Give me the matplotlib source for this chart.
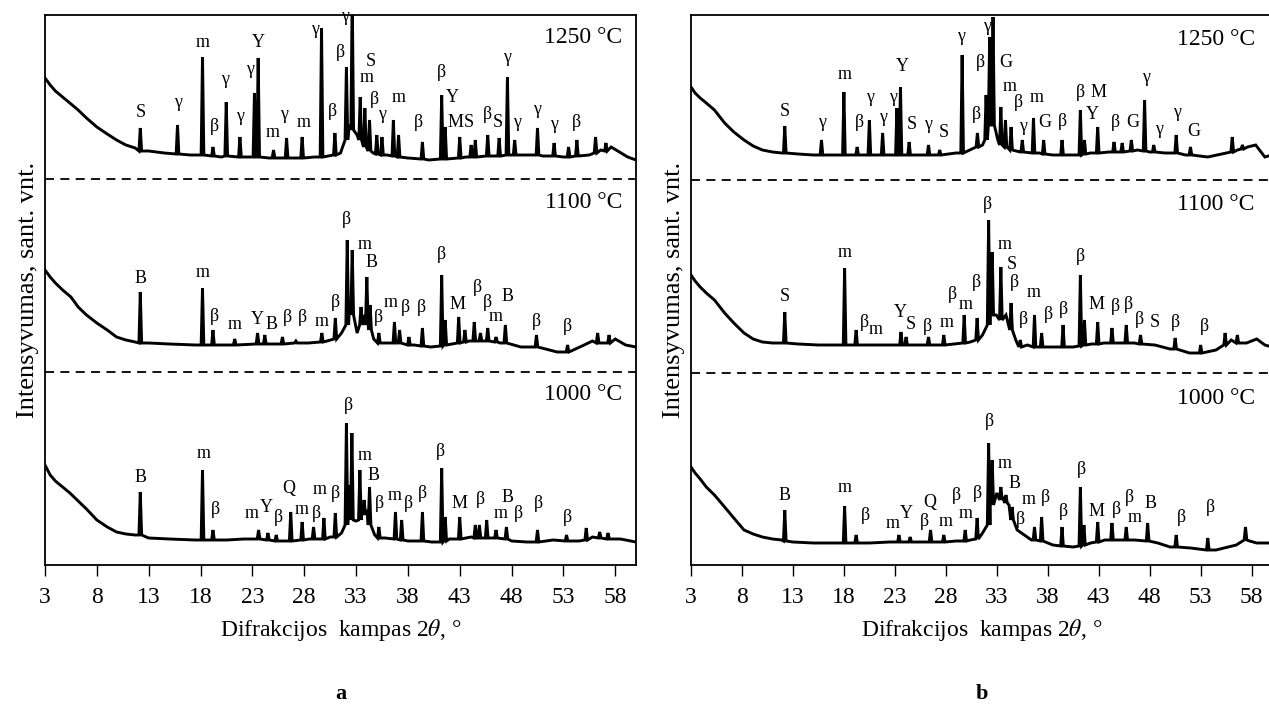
import matplotlib
matplotlib.use('Agg')
import matplotlib.pyplot as plt

plt.rcParams['font.family'] = ['Liberation Serif', 'DejaVu Serif']
plt.rcParams['mathtext.fontset'] = 'stix'

# intensity unit: arbitrary (0 = bottom frame, 550 = top frame)
xticks = [3, 8, 13, 18, 23, 28, 33, 38, 43, 48, 53, 58]

# ---------- panel a ----------
# 1250 C
a1250_bg_t = [3.0, 3.5, 4.0, 4.7, 5.5, 6.2, 7.0, 8.0, 9.0, 9.9, 10.8, 11.7, 13.0, 14.5, 17.0, 20.0,
              24.6, 27.0, 29.0, 31.5, 32.35, 33.1, 34.65, 36.0, 38.0, 40.0, 43.6, 47.0, 49.0, 51.0,
              53.0, 55.5, 56.6, 57.6, 58.4, 59.2, 60.0]
a1250_bg_v = [487, 480, 474, 468, 461, 455, 447, 438, 431, 425, 420, 417, 414, 412, 410, 408,
              407, 407, 408, 412, 440, 430, 412, 410, 407, 405, 408, 409, 410, 409,
              408, 410, 415, 418, 413, 408, 405]
a1250_pk_t = [12.19, 15.78, 18.19, 19.2, 20.48, 21.8, 23.2, 23.56, 25.04, 26.3, 27.8, 29.67, 30.96,
              32.07, 32.63, 33.4, 33.85, 34.3, 35.0, 35.5, 36.6, 37.1, 39.4, 41.26, 41.6, 43.0,
              44.1, 44.5, 45.7, 46.8, 47.6, 48.3, 50.5, 52.1, 53.5, 54.3, 56.1, 57.1]
a1250_pk_v = [437, 440, 508, 418, 463, 428, 472, 507, 415, 427, 428, 537, 432,
              498, 570, 468, 457, 445, 430, 428, 445, 430, 423, 470, 438, 428,
              420, 425, 430, 427, 488, 425, 437, 422, 418, 425, 428, 422]
a1250_pk_f = [414, 411, 410, 409, 409, 408, 408, 408, 407, 407, 407, 408, 410,
              425, 435, 425, 418, 414, 411, 410, 409, 408, 406, 406, 406, 407,
              408, 408, 409, 409, 410, 410, 410, 409, 408, 409, 412, 414]
a1250_lab_t = [12.26, 15.8, 18.2, 19.3, 20.4, 21.8, 22.8, 23.56, 25.0, 26.1, 27.9, 29.0, 30.7,
               31.5, 31.9, 34.4, 34.0, 34.75, 35.5, 37.1, 39.0, 41.2, 42.3, 42.6, 43.85, 45.7,
               46.7, 47.6, 48.55, 50.5, 52.1, 54.3]
a1250_lab_v = [452, 462, 522, 438, 485, 448, 495, 522, 432, 450, 442, 535, 453,
               512, 548, 503, 487, 465, 450, 467, 442, 492, 467, 442, 442, 450,
               442, 507, 442, 455, 440, 442]
a1250_lab_s = ['S', 'γ', 'm', 'β', 'γ', 'γ', 'γ', 'Y', 'm', 'γ', 'm', 'γ', 'β',
               'β', 'γ', 'S', 'm', 'β', 'γ', 'm', 'β', 'β', 'Y', 'M', 'S', 'β',
               'S', 'γ', 'γ', 'γ', 'γ', 'β']

# 1100 C
a1100_bg_t = [3.0, 3.5, 4.0, 4.7, 5.5, 6.2, 7.0, 8.0, 9.0, 9.9, 10.8, 11.7, 13.0, 15.0, 17.5, 21.0,
              25.5, 28.4, 30.2, 31.6, 32.38, 33.1, 33.8, 34.7, 35.8, 38.6, 40.2, 43.9, 46.9, 48.9,
              52.4, 55.0, 55.8, 56.9, 58.0, 59.0, 60.0]
a1100_bg_v = [295, 288, 282, 275, 268, 258, 250, 242, 235, 228, 225, 223, 222, 221, 220, 220,
              221, 222, 224, 232, 262, 232, 250, 226, 222, 220, 218, 224, 222, 218,
              213, 220, 224, 222, 226, 220, 218]
a1100_pk_t = [12.19, 18.19, 19.2, 21.3, 23.5, 24.2, 25.9, 27.2, 29.7, 31.0, 32.15, 32.63, 33.48,
              34.04, 34.35, 35.2, 36.7, 37.2, 38.1, 39.4, 41.26, 41.6, 42.9, 43.5, 44.4, 45.0,
              45.7, 46.5, 47.4, 50.4, 53.4, 56.3, 57.4]
a1100_pk_v = [273, 277, 235, 226, 232, 230, 228, 224, 232, 247, 325, 315, 258,
              288, 260, 232, 243, 235, 228, 237, 290, 245, 248, 235, 243, 232,
              237, 228, 240, 230, 220, 232, 230]
a1100_pk_f = [222, 220, 220, 220, 221, 221, 221, 222, 223, 226, 240, 250, 240,
              240, 235, 222, 222, 222, 220, 219, 219, 220, 222, 223, 224, 224,
              224, 223, 222, 218, 213, 222, 222]
a1100_lab_t = [12.26, 18.2, 19.3, 21.3, 23.5, 24.85, 26.4, 27.8, 29.7, 31.0, 32.1, 33.85, 34.5,
               35.2, 36.3, 37.8, 39.3, 41.26, 42.8, 44.7, 45.7, 46.5, 47.6, 50.4, 53.4]
a1100_lab_v = [286, 292, 248, 240, 245, 240, 247, 247, 243, 262, 345, 320, 302,
               247, 262, 257, 257, 310, 260, 277, 262, 248, 268, 243, 238]
a1100_lab_s = ['B', 'm', 'β', 'm', 'Y', 'B', 'β', 'β', 'm', 'β', 'β', 'm', 'B',
               'β', 'm', 'β', 'β', 'β', 'M', 'β', 'β', 'm', 'B', 'β', 'β']

# 1000 C
a1000_bg_t = [3.0, 3.5, 4.0, 4.7, 5.4, 6.2, 7.0, 8.0, 9.0, 9.9, 10.8, 11.7, 13.0, 15.0, 17.5, 20.5,
              22.2, 25.7, 28.5, 30.5, 31.6, 32.38, 33.0, 33.58, 34.05, 34.8, 35.8, 38.0, 40.3,
              42.0, 44.1, 46.0, 48.0, 49.5, 52.0, 54.5, 55.8, 58.5, 60.0]
a1000_bg_v = [100, 90, 84, 78, 72, 64, 56, 45, 38, 33, 31, 30, 27, 26, 25, 25,
              26, 24, 26, 28, 32, 80, 44, 55, 55, 30, 27, 24, 23,
              26, 28, 27, 24, 23, 25, 24, 28, 26, 23]
a1000_pk_t = [12.19, 18.19, 19.2, 23.6, 24.5, 25.3, 26.7, 27.8, 28.9, 29.9, 31.0, 32.07, 32.6,
              33.37, 33.78, 34.3, 35.2, 36.8, 37.4, 39.4, 41.26, 41.6, 43.0, 44.5, 44.9, 45.6,
              46.5, 47.5, 50.5, 53.3, 55.2, 56.5, 57.3]
a1000_pk_v = [73, 95, 35, 35, 32, 30, 53, 43, 38, 47, 52, 142, 132,
              95, 65, 78, 38, 53, 45, 53, 97, 48, 48, 40, 40, 45,
              35, 38, 35, 30, 37, 33, 32]
a1000_pk_f = [30, 25, 25, 26, 25, 24, 24, 25, 26, 26, 28, 40, 45,
              45, 50, 40, 27, 26, 25, 24, 23, 24, 26, 27, 27, 27,
              27, 26, 23, 24, 25, 27, 26]
a1000_lab_t = [12.26, 18.3, 19.4, 22.9, 24.3, 25.5, 26.5, 27.8, 29.2, 29.5, 31.0, 32.3, 33.85,
               34.65, 35.3, 36.7, 38.1, 39.4, 41.15, 43.0, 45.0, 46.9, 47.6, 48.7, 50.6, 53.4]
a1000_lab_v = [87, 111, 55, 52, 57, 47, 77, 56, 52, 75, 72, 160, 110,
               90, 62, 70, 62, 72, 114, 62, 65, 52, 67, 52, 62, 48]
a1000_lab_s = ['B', 'm', 'β', 'm', 'Y', 'β', 'Q', 'm', 'β', 'm', 'β', 'β', 'm',
               'B', 'β', 'm', 'β', 'β', 'β', 'M', 'β', 'm', 'B', 'β', 'β', 'β']

# ---------- panel b ----------
# 1250 C
b1250_bg_t = [3.0, 3.4, 3.9, 4.5, 5.3, 6.3, 7.2, 8.2, 9.1, 10.0, 11.0, 11.9, 13.5, 15.0, 17.0, 19.0,
              22.5, 25.5, 27.0, 29.0, 31.6, 33.1, 34.0, 35.3, 37.2, 38.5, 40.5, 42.2, 44.0, 46.8,
              48.0, 49.5, 51.5, 53.7, 55.5, 56.6, 57.6, 58.4, 59.3, 60.0]
b1250_bg_v = [478, 472, 467, 462, 455, 442, 433, 425, 419, 415, 413, 412, 411, 410, 410, 410,
              410, 410, 410, 412, 420, 425, 418, 413, 412, 410, 410, 412, 413, 415,
              413, 412, 410, 408, 412, 415, 418, 420, 408, 410]
b1250_pk_t = [12.2, 15.8, 18.0, 19.3, 20.5, 21.8, 23.2, 23.55, 24.4, 26.3, 27.4, 29.6, 31.1,
              31.95, 32.3, 32.63, 33.4, 33.85, 34.4, 35.5, 36.6, 37.6, 39.4, 41.2, 41.6, 42.9,
              44.5, 45.3, 46.2, 47.5, 48.4, 50.6, 52.0, 56.1, 57.1]
b1250_pk_v = [439, 425, 473, 418, 445, 432, 457, 478, 423, 420, 415, 510, 432,
              470, 528, 548, 458, 445, 438, 425, 447, 425, 425, 455, 425, 438,
              423, 422, 425, 465, 420, 430, 418, 428, 420]
b1250_pk_f = [412, 410, 410, 410, 410, 410, 410, 410, 410, 410, 410, 412, 418,
              425, 440, 440, 420, 418, 415, 413, 412, 411, 410, 410, 411, 412,
              413, 413, 414, 414, 413, 412, 410, 413, 416]
b1250_lab_t = [12.2, 15.9, 18.1, 19.5, 20.6, 21.8, 22.8, 23.7, 24.7, 26.3, 27.8, 29.5, 31.0,
               31.35, 32.07, 33.9, 34.3, 35.1, 35.6, 36.9, 37.7, 39.4, 41.2, 43.0, 42.4, 44.6,
               46.3, 47.6, 48.9, 50.7, 52.3]
b1250_lab_v = [453, 442, 490, 442, 467, 447, 467, 498, 440, 440, 432, 528, 450,
               502, 538, 502, 478, 462, 438, 467, 442, 443, 472, 472, 450, 442,
               442, 487, 435, 452, 433]
b1250_lab_s = ['S', 'γ', 'm', 'β', 'γ', 'γ', 'γ', 'Y', 'S', 'γ', 'S', 'γ', 'β',
               'β', 'γ', 'G', 'm', 'β', 'γ', 'm', 'G', 'β', 'β', 'M', 'Y', 'β',
               'G', 'γ', 'γ', 'γ', 'G']

# 1100 C
b1100_bg_t = [3.0, 3.4, 3.9, 4.5, 5.3, 6.3, 7.2, 8.2, 9.1, 10.0, 11.0, 11.9, 13.5, 15.5, 17.0, 20.5,
              22.5, 25.0, 27.0, 28.8, 30.4, 31.6, 32.38, 32.95, 33.9, 34.9, 36.0, 38.5, 40.5,
              42.3, 43.5, 45.0, 46.5, 48.5, 50.0, 51.9, 54.5, 56.0, 57.5, 58.5, 59.3, 60.0]
b1100_bg_v = [290, 284, 278, 272, 265, 252, 242, 232, 226, 223, 222, 222, 221, 220, 220, 220,
              220, 220, 220, 221, 223, 230, 270, 250, 250, 224, 220, 218, 218,
              221, 222, 222, 222, 220, 216, 212, 215, 225, 222, 226, 220, 218]
b1100_pk_t = [12.2, 18.07, 19.2, 23.6, 24.1, 26.3, 27.8, 29.8, 31.07, 32.2, 32.55, 33.4, 34.4,
              35.3, 36.7, 37.4, 39.5, 41.2, 41.6, 42.9, 44.3, 45.7, 47.1, 50.5, 53.0, 55.4, 56.6]
b1100_pk_v = [253, 297, 235, 233, 228, 228, 230, 250, 247, 345, 313, 298, 262,
              225, 250, 232, 240, 290, 245, 243, 237, 240, 230, 227, 220, 232, 230]
b1100_pk_f = [222, 220, 220, 220, 220, 220, 220, 222, 225, 240, 250, 245, 235,
              218, 218, 218, 218, 219, 220, 221, 222, 222, 221, 216, 212, 220, 222]
b1100_lab_t = [12.2, 18.1, 20.0, 21.1, 23.5, 24.6, 26.2, 28.1, 28.6, 29.95, 31.0, 32.1, 33.75,
               34.5, 34.7, 35.6, 36.6, 38.1, 39.5, 41.2, 42.8, 44.6, 45.9, 47.0, 48.5, 50.5, 53.4]
b1100_lab_v = [268, 312, 242, 235, 252, 240, 238, 242, 270, 260, 282, 360, 320,
               300, 282, 245, 272, 250, 255, 308, 260, 258, 260, 245, 242, 242, 238]
b1100_lab_s = ['S', 'm', 'β', 'm', 'Y', 'S', 'β', 'm', 'β', 'm', 'β', 'β', 'm',
               'S', 'β', 'β', 'm', 'β', 'β', 'β', 'M', 'β', 'β', 'β', 'S', 'β', 'β']

# 1000 C
b1000_bg_t = [3.0, 3.4, 3.9, 4.5, 5.3, 6.3, 7.2, 8.2, 9.1, 10.0, 11.0, 11.9, 13.0, 15.0, 16.7, 20.5,
              22.5, 25.2, 27.2, 29.0, 30.4, 31.6, 32.38, 33.0, 33.6, 34.2, 35.0, 36.4, 38.5, 40.5,
              42.2, 43.6, 46.5, 48.8, 50.0, 52.0, 54.5, 56.5, 57.8, 58.5, 59.3, 60.0]
b1000_bg_v = [98, 92, 86, 78, 70, 58, 47, 35, 31, 28, 26, 25, 23, 22, 22, 22,
              23, 23, 23, 24, 25, 32, 95, 72, 68, 60, 35, 25, 20, 18,
              22, 25, 25, 22, 18, 17, 15, 20, 24, 22, 22, 22]
b1000_pk_t = [12.2, 18.07, 19.2, 23.4, 24.5, 26.5, 27.8, 29.9, 31.07, 32.2, 32.55, 33.4, 33.9,
              34.5, 36.7, 37.4, 39.4, 41.2, 41.55, 42.9, 44.3, 45.7, 47.8, 50.6, 53.7, 57.4]
b1000_pk_v = [55, 59, 30, 30, 28, 35, 30, 35, 47, 122, 105, 78, 70,
              58, 38, 48, 38, 78, 40, 43, 42, 38, 42, 30, 27, 38]
b1000_pk_f = [24, 22, 22, 23, 23, 23, 23, 24, 26, 40, 60, 65, 62,
              45, 25, 24, 19, 19, 20, 23, 25, 25, 24, 18, 15, 25]
b1000_lab_t = [12.2, 18.1, 20.1, 22.8, 24.1, 25.9, 26.4, 28.0, 29.0, 29.9, 31.1, 32.25, 33.75,
               34.7, 35.3, 36.1, 37.8, 39.5, 41.3, 42.8, 44.7, 46.0, 46.5, 48.1, 51.1, 54.0]
b1000_lab_v = [70, 78, 49, 42, 52, 43, 63, 43, 69, 52, 72, 143, 102,
               82, 45, 65, 68, 53, 95, 53, 55, 68, 47, 62, 47, 57]
b1000_lab_s = ['B', 'm', 'β', 'm', 'Y', 'β', 'Q', 'm', 'β', 'm', 'β', 'β', 'm',
               'B', 'β', 'm', 'β', 'β', 'β', 'M', 'β', 'β', 'm', 'B', 'β', 'β']

temps = ['1250 °C', '1100 °C', '1000 °C']


def trace(bg_t, bg_v, pk_t, pk_v, pk_f, hw=0.13):
    # background points plus each peak as foot-top-foot
    pts = list(zip(bg_t, bg_v))
    for t, v, f in zip(pk_t, pk_v, pk_f):
        pts += [(t - hw, f), (t, v), (t + hw, f)]
    pts.sort()
    return [p[0] for p in pts], [p[1] for p in pts]


def draw(ax, patterns, labels, temp_v, temp_x, seps, letter):
    for bg_t, bg_v, pk_t, pk_v, pk_f in patterns:
        t, v = trace(bg_t, bg_v, pk_t, pk_v, pk_f)
        ax.plot(t, v, color='black', lw=2.1, solid_joinstyle='miter')
    for lt, lv, ls in labels:
        for t, v, s in zip(lt, lv, ls):
            ax.text(t, v, s, ha='center', va='center', fontsize=13, clip_on=False)
    for name, tv in zip(temps, temp_v):
        ax.text(temp_x, tv, name, ha='right', va='center', fontsize=17)
    for s in seps:
        ax.axhline(s, color='black', lw=1.3, ls=(0, (5, 3.5)))
    ax.set_xlim(3, 60)
    ax.set_ylim(0, 550)
    ax.set_xticks(xticks)
    ax.tick_params(axis='x', direction='out', length=8, width=1, labelsize=17, pad=8)
    ax.set_yticks([])
    for sp in ax.spines.values():
        sp.set_linewidth(1.3)
    ax.set_xlabel('Difrakcijos  kampas 2$\\theta$, °', fontsize=17, labelpad=6)
    ax.set_ylabel('Intensyvumas, sant. vnt.', fontsize=19, labelpad=4)
    ax.text(0.5, -0.235, letter, transform=ax.transAxes, ha='center', va='center',
            fontsize=16, fontweight='bold')


fig = plt.figure(figsize=(12.69, 7.12), dpi=100)
ax1 = fig.add_axes([45 / 1269, 147 / 712, 591 / 1269, 550 / 712])
ax2 = fig.add_axes([691 / 1269, 147 / 712, 581 / 1269, 550 / 712])

draw(ax1,
     [(a1250_bg_t, a1250_bg_v, a1250_pk_t, a1250_pk_v, a1250_pk_f),
      (a1100_bg_t, a1100_bg_v, a1100_pk_t, a1100_pk_v, a1100_pk_f),
      (a1000_bg_t, a1000_bg_v, a1000_pk_t, a1000_pk_v, a1000_pk_f)],
     [(a1250_lab_t, a1250_lab_v, a1250_lab_s),
      (a1100_lab_t, a1100_lab_v, a1100_lab_s),
      (a1000_lab_t, a1000_lab_v, a1000_lab_s)],
     [527, 362, 170], 58.7, [386, 193], 'a')

draw(ax2,
     [(b1250_bg_t, b1250_bg_v, b1250_pk_t, b1250_pk_v, b1250_pk_f),
      (b1100_bg_t, b1100_bg_v, b1100_pk_t, b1100_pk_v, b1100_pk_f),
      (b1000_bg_t, b1000_bg_v, b1000_pk_t, b1000_pk_v, b1000_pk_f)],
     [(b1250_lab_t, b1250_lab_v, b1250_lab_s),
      (b1100_lab_t, b1100_lab_v, b1100_lab_s),
      (b1000_lab_t, b1000_lab_v, b1000_lab_s)],
     [525, 360, 167], 58.3, [385, 192], 'b')

fig.savefig('out.png', dpi=100, facecolor='white')
